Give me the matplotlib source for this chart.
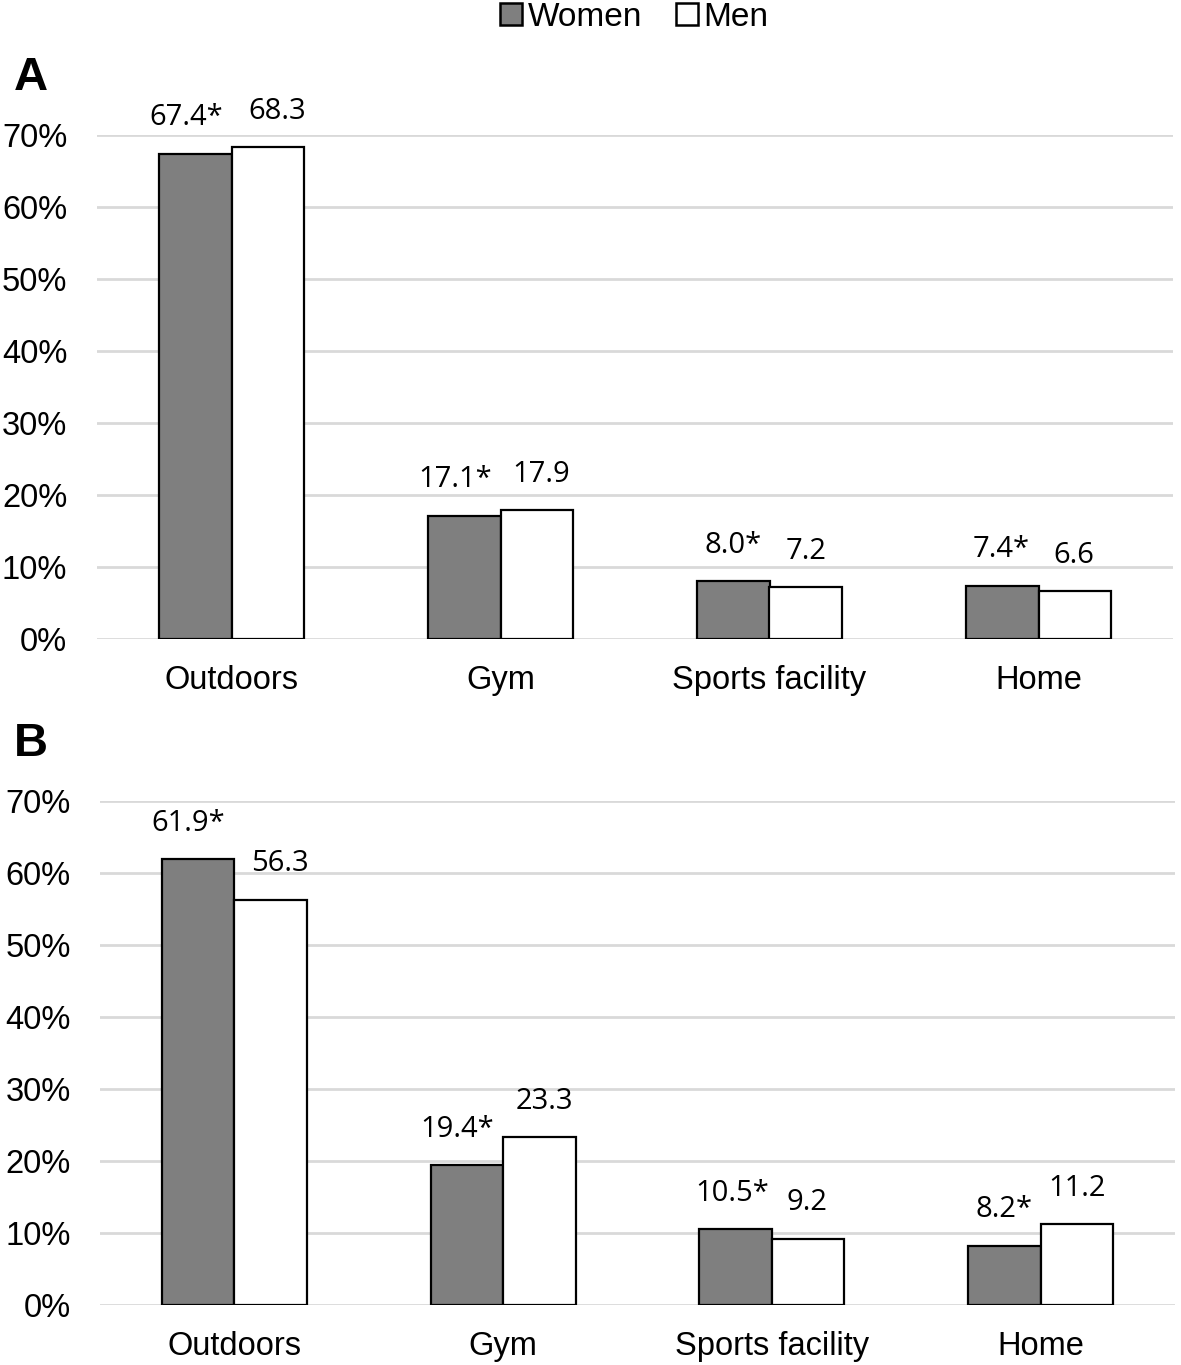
import matplotlib
matplotlib.use("Agg")
import matplotlib.pyplot as plt
from matplotlib.lines import Line2D
import numpy as np

categories = ["Outdoors", "Gym", "Sports facility", "Home"]
women_a = [67.4, 17.1, 8.0, 7.4]
men_a = [68.3, 17.9, 7.2, 6.6]
women_b = [61.9, 19.4, 10.5, 8.2]
men_b = [56.3, 23.3, 9.2, 11.2]
women_a_labels = ["67.4*", "17.1*", "8.0*", "7.4*"]
men_a_labels = ["68.3", "17.9", "7.2", "6.6"]
women_b_labels = ["61.9*", "19.4*", "10.5*", "8.2*"]
men_b_labels = ["56.3", "23.3", "9.2", "11.2"]
yticks = [0, 10, 20, 30, 40, 50, 60, 70]
ytick_labels = ["0%", "10%", "20%", "30%", "40%", "50%", "60%", "70%"]

# label nudges in pixels (style only)
wa_dx = [-9, -9, 0, -1]
ma_dx = [9, 4, 0, -1]
wb_dx = [-10, -10, -3, 0]
mb_dx = [9, 5, -1, 0]

W, H = 1181, 1365
fig = plt.figure(figsize=(W / 100, H / 100), dpi=100)

tick_font = "Liberation Sans"
lab_font = "Open Sans"
WOMEN = "#7f7f7f"
GRID = "#d9d9d9"
TICK_FS = 23.5
LAB_FS = 21


def panel(rect, women, men, wl, ml, wdx, mdx, letter, letter_xy, ypad):
    ax = fig.add_axes(rect)
    x = np.arange(len(categories))
    bw = 0.27
    ax.bar(x - bw / 2, women, bw, color=WOMEN, edgecolor="black", linewidth=1.6, zorder=3)
    ax.bar(x + bw / 2, men, bw, color="white", edgecolor="black", linewidth=1.6, zorder=3)
    ax.set_xlim(-0.5, len(categories) - 0.5)
    ax.set_ylim(0, 70)
    ax.set_yticks(yticks)
    ax.set_yticklabels(ytick_labels, fontsize=TICK_FS, fontfamily=tick_font)
    ax.set_xticks(x)
    ax.set_xticklabels(categories, fontsize=TICK_FS, fontfamily=tick_font)
    ax.tick_params(axis="y", length=0, pad=ypad)
    ax.tick_params(axis="x", length=0, pad=19)
    for s in ax.spines.values():
        s.set_visible(False)
    ax.grid(axis="y", color=GRID, linewidth=2, zorder=0)
    ax.set_axisbelow(True)
    for i in range(len(categories)):
        ax.annotate(wl[i], (x[i] - bw / 2, women[i]), xytext=(wdx[i] * 0.72, 26),
                    textcoords="offset points", ha="center", va="center",
                    fontsize=LAB_FS, fontfamily=lab_font, annotation_clip=False)
        ax.annotate(ml[i], (x[i] + bw / 2, men[i]), xytext=(mdx[i] * 0.72, 26),
                    textcoords="offset points", ha="center", va="center",
                    fontsize=LAB_FS, fontfamily=lab_font, annotation_clip=False)
    fig.text(letter_xy[0] / W, 1 - letter_xy[1] / H, letter, fontsize=34,
             fontweight="bold", fontfamily=tick_font, ha="left", va="center")
    return ax


panel([97 / W, 1 - 639 / H, 1076 / W, 504 / H], women_a, men_a,
      women_a_labels, men_a_labels, wa_dx, ma_dx, "A", (14, 78), 21.5)
panel([100 / W, 1 - 1305 / H, 1075 / W, 504 / H], women_b, men_b,
      women_b_labels, men_b_labels, wb_dx, mb_dx, "B", (14, 744), 21)

handles = [
    Line2D([], [], marker="s", linestyle="none", markersize=16,
           markerfacecolor=WOMEN, markeredgecolor="black", markeredgewidth=1.8),
    Line2D([], [], marker="s", linestyle="none", markersize=16,
           markerfacecolor="white", markeredgecolor="black", markeredgewidth=1.8),
]
fig.legend(handles, ["Women", "Men"], loc="center", bbox_to_anchor=(634 / W, 1 - 17 / H),
           ncol=2, frameon=False, prop={"family": tick_font, "size": 24},
           handlelength=0.7, handletextpad=0.15, columnspacing=1.0, borderpad=0)

fig.savefig("out.png", dpi=100)
